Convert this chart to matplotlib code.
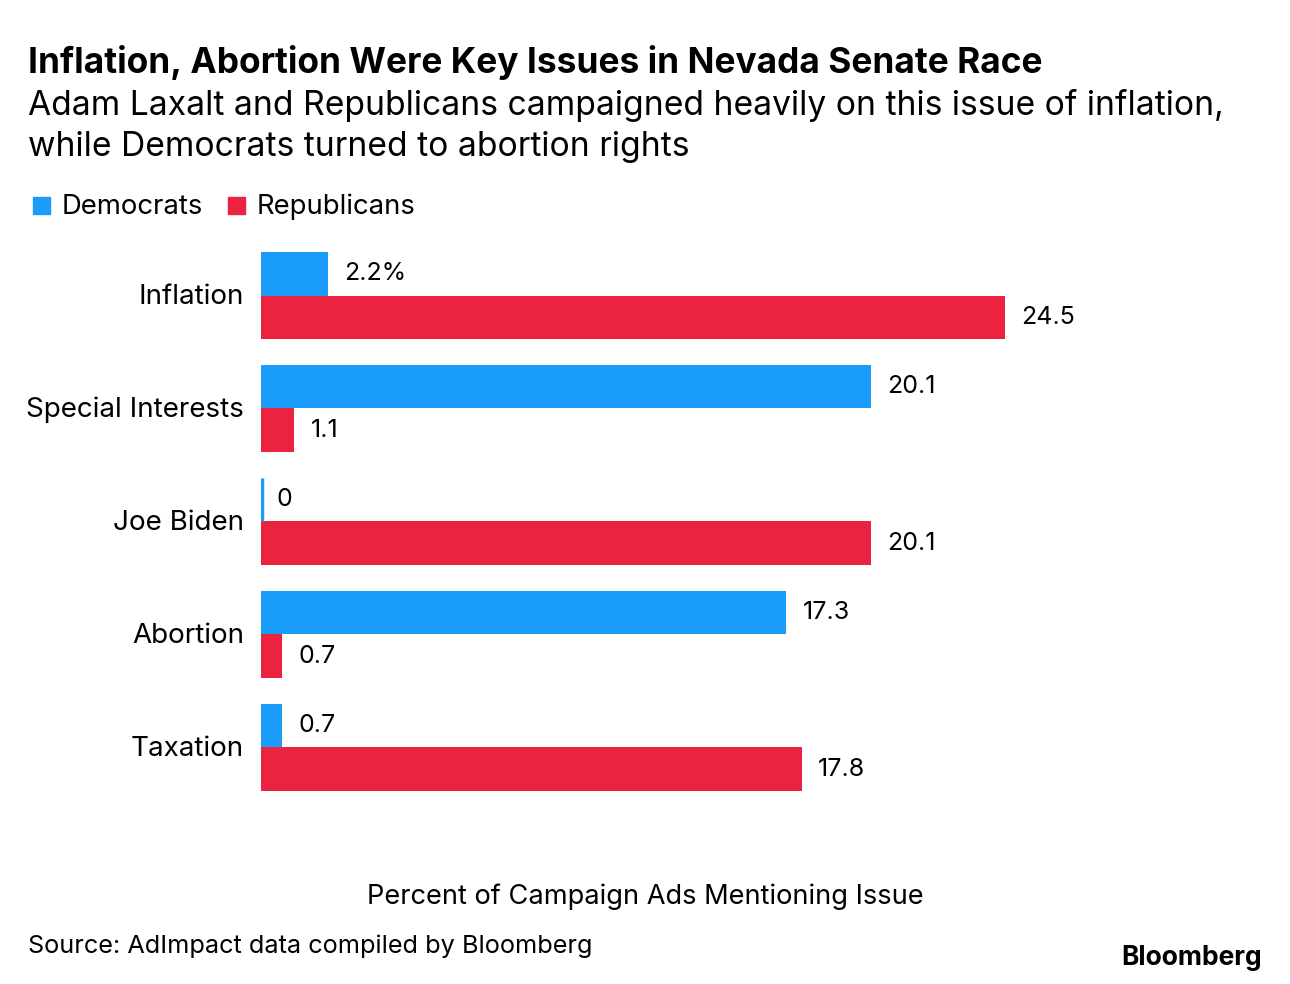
import numpy as np
import matplotlib
matplotlib.use('Agg')
import matplotlib.pyplot as plt

# data
issues = ['Inflation', 'Special Interests', 'Joe Biden', 'Abortion', 'Taxation']
dem_vals = [2.2, 20.1, 0.0, 17.3, 0.7]
rep_vals = [24.5, 1.1, 20.1, 0.7, 17.8]
dem_labels = ['2.2%', '20.1', '0', '17.3', '0.7']
rep_labels = ['24.5', '1.1', '20.1', '0.7', '17.8']

blue = '#1a9cfb'
red = '#ec2340'
plt.rcParams['font.family'] = ['Inter', 'DejaVu Sans']

W, H = 1290, 984
fig = plt.figure(figsize=(W / 100, H / 100), dpi=100)

def fx(px):
    return px / W

def fy(py):
    return 1 - py / H

# plot area in pixels
left, right, top, bottom = 261, 1261, 245, 800
ax = fig.add_axes([fx(left), fy(bottom), fx(right - left), (bottom - top) / H])
px_per_unit = 30.37
ax.set_xlim(0, (right - left) / px_per_unit)
ax.set_ylim(4.465, -0.447)

bh = 0.385
y = np.arange(len(issues))
ax.barh(y - bh / 2, dem_vals, height=bh, color=blue, linewidth=0)
ax.barh(y + bh / 2, rep_vals, height=bh, color=red, linewidth=0)

# a zero value still shows as a hairline
for i, v in enumerate(dem_vals):
    if v == 0:
        ax.vlines(0.04, i - bh, i, color=blue, linewidth=2.5)

pad = 16 / px_per_unit
for i in range(len(issues)):
    ax.text(dem_vals[i] + pad, i - bh / 2, dem_labels[i], va='center', ha='left', fontsize=18)
    ax.text(rep_vals[i] + pad, i + bh / 2, rep_labels[i], va='center', ha='left', fontsize=18)
    ax.text(-17 / px_per_unit, i + 0.01, issues[i], va='center', ha='right', fontsize=20)

ax.set_xticks([])
ax.set_yticks([])
for s in ax.spines.values():
    s.set_visible(False)

# titles
fig.text(fx(28), fy(63), 'Inflation, Abortion Were Key Issues in Nevada Senate Race',
         fontsize=25.4, fontweight='bold', va='center', ha='left')
fig.text(fx(28), fy(105), 'Adam Laxalt and Republicans campaigned heavily on this issue of inflation,',
         fontsize=24.2, va='center', ha='left')
fig.text(fx(28), fy(147), 'while Democrats turned to abortion rights',
         fontsize=24.2, va='center', ha='left')

# legend
for x0, col, lab in [(33, blue, 'Democrats'), (228, red, 'Republicans')]:
    fig.patches.append(plt.Rectangle((fx(x0), fy(214)), fx(17), 17 / H, color=col,
                                     transform=fig.transFigure, figure=fig))
    fig.text(fx(x0 + 29), fy(207), lab, fontsize=19.8, va='center', ha='left')

fig.text(0.5, fy(897), 'Percent of Campaign Ads Mentioning Issue', fontsize=19.6, va='center', ha='center')
fig.text(fx(28), fy(946), 'Source: AdImpact data compiled by Bloomberg', fontsize=18.2, va='center', ha='left')
fig.text(fx(1262), fy(958), 'Bloomberg', fontsize=19, fontweight='bold', va='center', ha='right')

fig.savefig('out.png', dpi=100, facecolor='white')
